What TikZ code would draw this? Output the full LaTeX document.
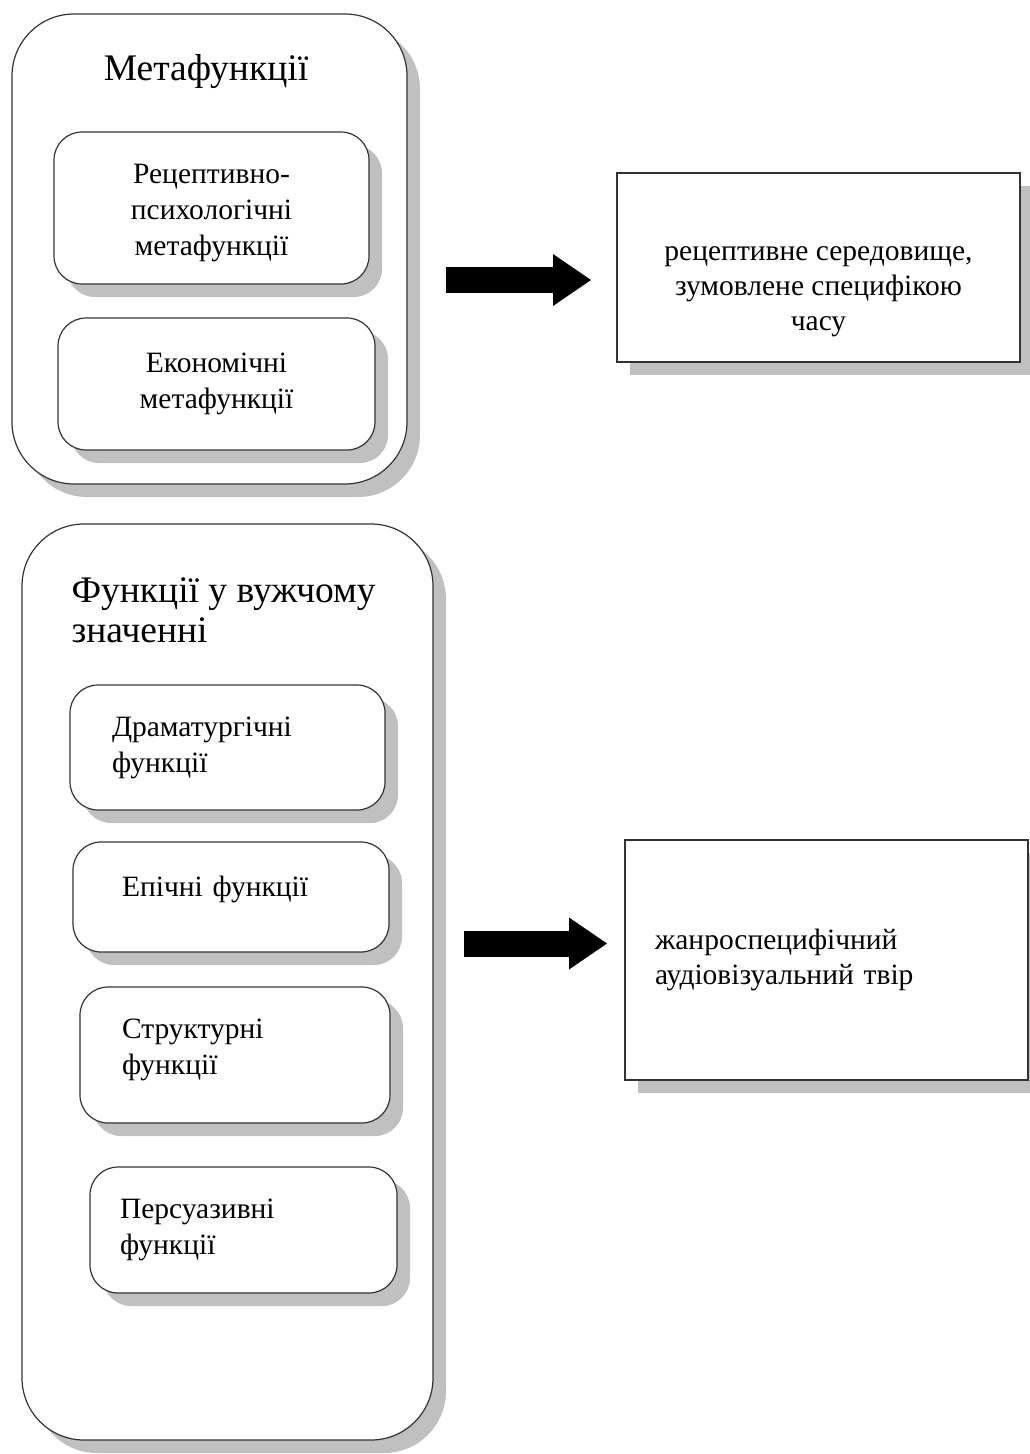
\documentclass[tikz,border=0pt]{standalone}
\usepackage{fontspec}
\setmainfont{Liberation Serif}
\usetikzlibrary{shapes,positioning,calc,shadows,arrows.meta}
\definecolor{shadowGray}{HTML}{C0C0C0}

\begin{document}
\begin{tikzpicture}
  [x=1pt,y=-1pt,
   baseNode/.style={draw=black!80,line width=1.2pt,fill=white,inner sep=0pt,
     general shadow={fill=shadowGray,shadow xshift=13pt,shadow yshift=-13pt}},
   grpN/.style={baseNode,rounded corners=62pt},
   subN/.style={baseNode,rounded corners=28pt,font=\fontsize{29.5}{36}\selectfont},
   resN/.style={baseNode,rectangle,font=\fontsize{29.5}{35}\selectfont},
   titleN/.style={font=\fontsize{37.5}{40}\selectfont},
   bigArrow/.style={line width=26pt,-{Triangle[length=38pt,width=52pt,line width=0pt]}},
  ]
  \useasboundingbox (0,0) rectangle (1030,1454);

  % metafunctions
  \node[grpN,minimum width=395pt,minimum height=470pt] (metaBox) at (209.5,249) {};
  \node[titleN] (metaTitle) at (206,72) {Метафункції};
  \node[subN,minimum width=315pt,minimum height=152pt,align=center] (recBox) at (211.5,208)
    {\rule{0pt}{30pt}Рецептивно-\\психологічні\\метафункції};
  \node[subN,minimum width=317pt,minimum height=132pt,align=center] (ecoBox) at (216.5,384)
    {Економічні\\метафункції};

  \node[resN,minimum width=403pt,minimum height=189pt,align=center] (envBox) at (818.5,267.5)
    {\mbox{}\\[28pt]рецептивне середовище,\\зумовлене специфікою\\часу};
  \coordinate (arrOneA) at (446,280);
  \coordinate (arrOneB) at (591,280);
  \draw[bigArrow] (arrOneA) -- (arrOneB);

  % functions in the narrow sense
  \node[grpN,minimum width=411pt,minimum height=916pt] (funcBox) at (227.5,982) {};
  \node[titleN,anchor=west,align=left] (funcTitle) at (68,610) {Функції у вужчому\\значенні};
  \node[subN,minimum width=315pt,minimum height=125pt,inner xsep=42pt,text width=231pt,align=left]
    (dramBox) at (227.5,747.5) {Драматургічні\\функції};
  \node[subN,minimum width=316pt,minimum height=110pt,inner xsep=49pt,text width=218pt,align=left]
    (epicBox) at (231,897) {Епічні функції\\[-14pt]\mbox{}};
  \node[subN,minimum width=310pt,minimum height=136pt,inner xsep=42pt,text width=226pt,align=left]
    (strBox) at (235,1055) {Структурні\\функції\\[-20pt]\mbox{}};
  \node[subN,minimum width=307pt,minimum height=126pt,inner xsep=30pt,text width=247pt,align=left]
    (persBox) at (243.5,1230) {Персуазивні\\функції};

  \node[resN,minimum width=403pt,minimum height=240pt,inner xsep=30pt,text width=343pt,align=left]
    (workBox) at (826.5,960) {жанроспецифічний\\аудіовізуальний твір};
  \coordinate (arrTwoA) at (464,943.5);
  \coordinate (arrTwoB) at (607,943.5);
  \draw[bigArrow] (arrTwoA) -- (arrTwoB);
\end{tikzpicture}
\end{document}
